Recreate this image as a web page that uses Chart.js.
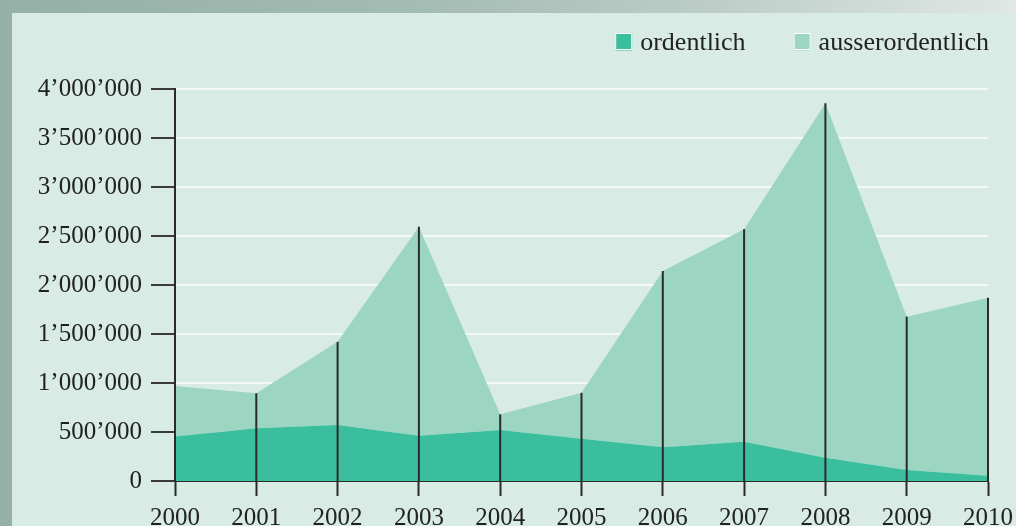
<!DOCTYPE html>
<html>
<head>
<meta charset="utf-8">
<script src="https://cdn.jsdelivr.net/npm/chart.js@4"></script>
<style>
  html, body { margin: 0; padding: 0; }
  body { width: 1016px; height: 526px; position: relative; overflow: hidden;
    background: linear-gradient(90deg, #95b0a7 0%, #a2bbb3 40%, #bccdc7 70%, #e0e7e4 100%); }
  #panel { position: absolute; left: 12px; top: 13px; right: 0; bottom: 0; background: #d8ece5; }
  #c { position: absolute; left: 0; top: 0; }
</style>
</head>
<body>
<div id="panel"></div>
<canvas id="c" width="1016" height="526"></canvas>
<script>
const years = ['2000','2001','2002','2003','2004','2005','2006','2007','2008','2009','2010'];
const ordentlich = [455000, 537000, 571000, 462000, 520000, 430000, 345000, 400000, 238000, 112000, 54000];
const ausserordentlich = [515000, 358000, 849000, 2133000, 160000, 470000, 1798000, 2170000, 3616000, 1565000, 1816000];
const seriesLabels = ['ordentlich', 'ausserordentlich'];
const seriesColors = ['#3abe9e', '#9dd5c3'];
const yMax = 4000000;
const yStep = 500000;

const FONT = "'Liberation Serif', 'Times New Roman', serif";
const TEXT = '#222222';
const DARK = '#2a2a2a';

function fmt(v) {
  return String(Math.round(v)).replace(/\B(?=(\d{3})+(?!\d))/g, '\u2019');
}

const dropLines = {
  id: 'dropLines',
  afterDraw(chart) {
    const ctx = chart.ctx;
    const meta = chart.getDatasetMeta(1);
    const yScale = chart.scales.y;
    const base = yScale.getPixelForValue(0);
    ctx.save();
    ctx.strokeStyle = DARK;
    ctx.lineWidth = 2;
    meta.data.forEach(pt => {
      ctx.beginPath();
      ctx.moveTo(pt.x, pt.y);
      ctx.lineTo(pt.x, base);
      ctx.stroke();
    });
    ctx.restore();
  }
};

const customLegend = {
  id: 'customLegend',
  afterDraw(chart) {
    const ctx = chart.ctx;
    ctx.save();
    ctx.font = '26px ' + FONT;
    ctx.textBaseline = 'alphabetic';
    let x = 989;
    const box = 17, gap = 8, itemGap = 48, boxTop = 33.5, baseline = 50;
    const ds = chart.data.datasets;
    for (let i = ds.length - 1; i >= 0; i--) {
      const label = ds[i].label;
      const w = ctx.measureText(label).width;
      const tx = x - w;
      const bx = tx - gap - box;
      ctx.fillStyle = ds[i].backgroundColor;
      ctx.fillRect(bx, boxTop, box, box);
      ctx.strokeStyle = '#ffffff';
      ctx.lineWidth = 1;
      ctx.strokeRect(bx + 0.5, boxTop, box - 1, box - 1);
      ctx.fillStyle = TEXT;
      ctx.fillText(label, tx, baseline);
      x = bx - itemGap;
    }
    ctx.restore();
  }
};

new Chart(document.getElementById('c'), {
  type: 'line',
  data: {
    labels: years,
    datasets: [
      { label: seriesLabels[0], data: ordentlich, backgroundColor: seriesColors[0],
        borderWidth: 0, pointRadius: 0, fill: 'origin', tension: 0 },
      { label: seriesLabels[1], data: ausserordentlich, backgroundColor: seriesColors[1],
        borderWidth: 0, pointRadius: 0, fill: '-1', tension: 0 }
    ]
  },
  options: {
    responsive: false,
    devicePixelRatio: 1,
    animation: false,
    layout: { padding: { left: 0, top: 89, right: 28, bottom: 0 } },
    plugins: { legend: { display: false }, tooltip: { enabled: false } },
    scales: {
      x: {
        z: 1,
        offset: false,
        afterFit(s) { s.height = 45; s.paddingLeft = 0; s.paddingRight = 0; },
        border: { display: true, color: DARK, width: 2 },
        grid: { display: true, drawOnChartArea: false, tickLength: 15, tickColor: DARK, tickWidth: 2 },
        ticks: { color: TEXT, font: { family: FONT, size: 25 }, padding: 7, maxRotation: 0, autoSkip: false }
      },
      y: {
        z: 1,
        stacked: true,
        min: 0, max: yMax,
        afterFit(s) { s.width = 175; s.paddingTop = 0; s.paddingBottom = 0; },
        border: { display: true, color: DARK, width: 2 },
        grid: {
          color: ctx => (ctx.tick && ctx.tick.value === 0) ? 'rgba(0,0,0,0)' : '#f2f9f6',
          lineWidth: 2, tickLength: 24, tickColor: '#3a3a3a', tickWidth: 2
        },
        ticks: { stepSize: yStep, color: TEXT, font: { family: FONT, size: 25 }, padding: 9,
          callback: v => fmt(v) }
      }
    }
  },
  plugins: [dropLines, customLegend]
});
</script>
</body>
</html>
